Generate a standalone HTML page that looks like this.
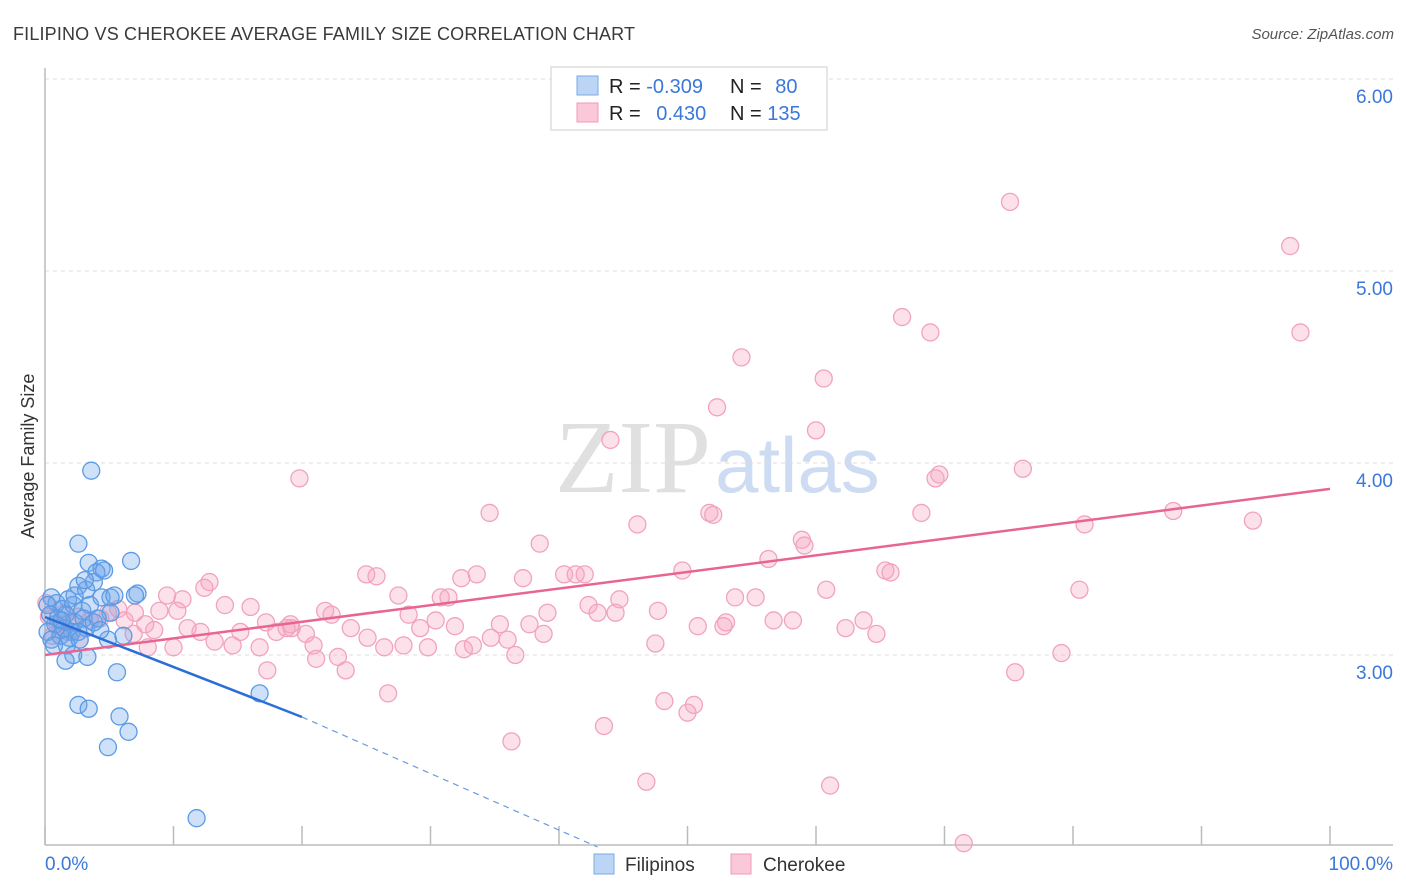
<!DOCTYPE html>
<html><head><meta charset="utf-8"><style>
body{margin:0;background:#fff;font-family:"Liberation Sans",sans-serif;}
svg{display:block}
</style></head><body>
<svg id="chart" width="1406" height="892" viewBox="0 0 1406 892" xmlns="http://www.w3.org/2000/svg">
<text x="13" y="40" font-size="18" fill="#3a3a3a" textLength="622">FILIPINO VS CHEROKEE AVERAGE FAMILY SIZE CORRELATION CHART</text>
<text x="1394" y="39" font-size="15" fill="#555" font-style="italic" text-anchor="end">Source: ZipAtlas.com</text>
<text x="555" y="492" font-size="104" font-family="Liberation Serif, serif"><tspan fill="#e0e0e0">ZIP</tspan><tspan fill="#cddcf2" font-family="Liberation Sans, sans-serif" font-size="78" dx="4">atlas</tspan></text>
<g id="grid"></g>
<g id="axes"></g>
<g id="pink"></g>
<g id="blue"></g>
<g id="trends"></g>
<text transform="translate(34,456) rotate(-90)" font-size="18" fill="#333" text-anchor="middle">Average Family Size</text>
<g>
<rect x="551" y="67" width="276" height="63" fill="#fff" stroke="#ddd" stroke-width="1.5"/>
<rect x="577" y="76" width="21" height="19" fill="#bcd5f5" stroke="#7aaae8"/>
<rect x="577" y="103" width="21" height="19" fill="#fac8d8" stroke="#f09ab5"/>
<text x="609" y="93" font-size="20" fill="#222">R = <tspan fill="#3b78d8">-0.309</tspan></text>
<text x="730" y="93" font-size="20" fill="#222">N = <tspan fill="#3b78d8" dx="8">80</tspan></text>
<text x="609" y="120" font-size="20" fill="#222">R = <tspan fill="#3b78d8" dx="10">0.430</tspan></text>
<text x="730" y="120" font-size="20" fill="#222">N = <tspan fill="#3b78d8">135</tspan></text>
</g>
<g>
<rect x="594" y="854" width="20" height="20" fill="#bcd5f5" stroke="#7aaae8"/>
<text x="625" y="871" font-size="19" fill="#333">Filipinos</text>
<rect x="731" y="854" width="20" height="20" fill="#fac8d8" stroke="#f09ab5"/>
<text x="763" y="871" font-size="19" fill="#333">Cherokee</text>
</g>
</svg>
<script>
const NS="http://www.w3.org/2000/svg";
const yTicks=[3,4,5,6];
const yTickLabels=["3.00","4.00","5.00","6.00"];
const xTicks=[0,10,20,30,40,50,60,70,80,90,100];
const blueX=[3.6,2.6,6.7,3.4,4.4,4.0,4.6,2.6,3.8,3.2,4.4,5.1,7.2,7.0,0.5,0.9,1.8,0.2,1.3,2.2,2.9,3.5,5.1,0.4,1.0,1.6,2.3,3.0,0.8,1.5,2.1,3.2,3.8,0.2,1.2,1.9,0.5,2.6,4.1,6.1,4.9,1.7,0.7,2.2,3.3,1.6,5.6,2.6,3.4,5.8,6.5,4.9,16.7,11.8,3.1,5.4,2.3,1.3,2.7,4.3];
const blueY=[3.96,3.58,3.49,3.48,3.45,3.43,3.44,3.36,3.38,3.34,3.30,3.30,3.32,3.31,3.30,3.27,3.29,3.26,3.24,3.26,3.23,3.26,3.22,3.21,3.19,3.21,3.17,3.19,3.16,3.14,3.12,3.14,3.17,3.12,3.10,3.09,3.08,3.12,3.19,3.10,3.08,3.05,3.05,3.00,2.99,2.97,2.91,2.74,2.72,2.68,2.60,2.52,2.80,2.15,3.39,3.31,3.31,3.18,3.08,3.13];
const pinkX=[75.1,96.9,66.7,68.9,97.7,54.2,60.6,52.3,60.0,44.0,19.8,76.1,69.6,69.3,34.6,51.7,52.0,68.2,46.1,94.0,80.9,87.8,58.9,59.1,38.5,56.3,49.6,65.4,65.8,25.0,25.8,32.4,33.6,37.2,40.4,41.3,42.0,12.8,12.4,9.5,10.7,60.8,80.5,27.5,30.8,31.4,53.7,55.3,16.0,14.0,10.3,21.8,22.3,42.3,44.7,47.7,35.4,39.1,37.7,43.0,44.4,56.7,58.2,63.7,53.0,50.8,52.8,30.4,28.3,29.2,31.9,19.2,17.2,15.2,18.0,11.1,12.1,7.8,8.5,6.9,23.8,25.1,20.3,18.8,13.2,14.6,16.7,10.0,8.0,20.9,26.4,27.9,29.8,32.6,33.3,34.7,36.0,36.6,38.8,47.5,62.3,64.7,79.1,6.2,5.7,4.9,4.3,2.7,22.8,21.1,23.4,17.3,26.7,48.2,50.5,50.0,36.3,43.5,75.5,46.8,61.1,71.5,7.0,8.9,19.1,0.3,1.0,1.5,2.0,0.6,1.8,2.5,0.1,3.5,1.2];
const pinkY=[5.36,5.13,4.76,4.68,4.68,4.55,4.44,4.29,4.17,4.12,3.92,3.97,3.94,3.92,3.74,3.74,3.73,3.74,3.68,3.70,3.68,3.75,3.60,3.57,3.58,3.50,3.44,3.44,3.43,3.42,3.41,3.40,3.42,3.40,3.42,3.42,3.42,3.38,3.35,3.31,3.29,3.34,3.34,3.31,3.30,3.30,3.30,3.30,3.25,3.26,3.23,3.23,3.21,3.26,3.29,3.23,3.16,3.22,3.16,3.22,3.22,3.18,3.18,3.18,3.17,3.15,3.15,3.18,3.21,3.14,3.15,3.14,3.17,3.12,3.12,3.14,3.12,3.16,3.13,3.11,3.14,3.09,3.11,3.14,3.07,3.05,3.04,3.04,3.04,3.05,3.04,3.05,3.04,3.03,3.05,3.09,3.08,3.00,3.11,3.06,3.14,3.11,3.01,3.18,3.24,3.22,3.19,3.08,2.99,2.98,2.92,2.92,2.80,2.76,2.74,2.70,2.55,2.63,2.91,2.34,2.32,2.02,3.22,3.23,3.16,3.20,3.15,3.22,3.17,3.10,3.12,3.20,3.27,3.18,3.13];
const blueTrend=[[0,3.198],[20,2.677]];
const blueTrendDash=[[20,2.677],[43,2.0]];
const pinkTrend=[[0,3.0],[100,3.865]];
const sx=v=>45+v*12.85;
const sy=v=>79+(6-v)*192;
function mk(tag,attrs,parent){const e=document.createElementNS(NS,tag);for(const k in attrs)e.setAttribute(k,attrs[k]);parent.appendChild(e);return e;}
const grid=document.getElementById('grid'),axes=document.getElementById('axes');
yTicks.forEach((t,i)=>{
  const l=mk('line',{x1:45,x2:1393,y1:sy(t),y2:sy(t),stroke:'#ddd','stroke-dasharray':'4,4'},grid);
  
  
  const tx=mk('text',{x:1393,y:sy(t)+24,'font-size':19,fill:'#3b78d8','text-anchor':'end'},axes);
  tx.textContent=yTickLabels[i];
  
  
});
mk('line',{x1:45,x2:45,y1:68,y2:845,stroke:'#bbb','stroke-width':1.5},axes);
mk('line',{x1:45,x2:1393,y1:845,y2:845,stroke:'#bbb','stroke-width':1.5},axes);
xTicks.forEach(t=>{
  const l=mk('line',{x1:sx(t),x2:sx(t),y1:826,y2:845,stroke:'#bbb','stroke-width':1.5},axes);
  
  
});
const xl0=mk('text',{x:45,y:870,'font-size':19,fill:'#3b78d8'},axes);xl0.textContent='0.0%';


const xl1=mk('text',{x:1393,y:870,'font-size':19,fill:'#3b78d8','text-anchor':'end'},axes);xl1.textContent='100.0%';


const pg=document.getElementById('pink');
pinkX.forEach((x,i)=>{
  const c=mk('circle',{cx:sx(x),cy:sy(pinkY[i]),r:8.5,fill:'rgba(245,165,190,0.33)',stroke:'#f2a3bc','stroke-width':1.3},pg);
  
  
});
const bg=document.getElementById('blue');
blueX.forEach((x,i)=>{
  const c=mk('circle',{cx:sx(x),cy:sy(blueY[i]),r:8.5,fill:'rgba(110,165,235,0.33)',stroke:'#5a9be6','stroke-width':1.3},bg);
  
  
});
const tg=document.getElementById('trends');
const pl=mk('line',{x1:sx(pinkTrend[0][0]),y1:sy(pinkTrend[0][1]),x2:sx(pinkTrend[1][0]),y2:sy(pinkTrend[1][1]),stroke:'#e8658f','stroke-width':2.5},tg);


const bl=mk('line',{x1:sx(blueTrend[0][0]),y1:sy(blueTrend[0][1]),x2:sx(blueTrend[1][0]),y2:sy(blueTrend[1][1]),stroke:'#2b6fd6','stroke-width':2.5},tg);


const bd=mk('line',{x1:sx(blueTrendDash[0][0]),y1:sy(blueTrendDash[0][1]),x2:sx(blueTrendDash[1][0]),y2:sy(blueTrendDash[1][1]),stroke:'#6a9be0','stroke-width':1.2,'stroke-dasharray':'6,5'},tg);


</script>
</body></html>
